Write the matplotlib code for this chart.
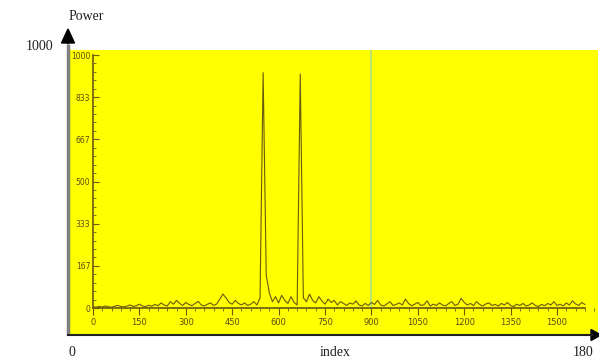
import matplotlib.pyplot as plt
import numpy as np
from matplotlib.patches import Rectangle, FancyArrow
from matplotlib.ticker import MultipleLocator

# spectrum samples, one every 10 index steps (0 .. 1590)
index = np.arange(0, 1600, 10)
power = [
    5, 3, 6, 4, 8, 5, 3, 7, 10, 6,
    4, 8, 12, 6, 9, 15, 8, 5, 11, 7,
    14, 9, 20, 12, 8, 25, 15, 30, 18, 10,
    22, 14, 9, 18, 26, 12, 8, 15, 20, 10,
    16, 35, 55, 40, 22, 15, 30, 18, 12, 20,
    10, 15, 25, 12, 40, 930, 130, 60, 25, 45,
    20, 50, 30, 18, 45, 22, 12, 925, 40, 25,
    55, 30, 20, 45, 28, 15, 35, 22, 30, 12,
    25, 18, 10, 20, 15, 28, 12, 8, 18, 10,
    22, 14, 30, 12, 8, 16, 25, 10, 14, 20,
    12, 35, 18, 9, 15, 22, 10, 13, 28, 8,
    15, 10, 20, 12, 8, 18, 25, 10, 15, 38,
    22, 12, 18, 10, 25, 14, 8, 16, 20, 10,
    14, 8, 18, 12, 22, 10, 6, 15, 10, 18,
    8, 12, 20, 10, 6, 14, 9, 18, 12, 25,
    10, 15, 8, 20, 12, 28, 16, 10, 22, 14,
]
marker_index = 900

y_ticks = [0, 167, 333, 500, 667, 833, 1000]
x_ticks = [0, 150, 300, 450, 600, 750, 900, 1050, 1200, 1350, 1500]

W, H = 599, 363
fig = plt.figure(figsize=(W / 100, H / 100), dpi=100)

# pixel-space canvas for the outer frame, arrows and captions
bg = fig.add_axes([0, 0, 1, 1])
bg.set_xlim(0, W)
bg.set_ylim(H, 0)
bg.axis('off')

bg.add_patch(Rectangle((68, 50), 530, 285, facecolor='#ffff00', edgecolor='none'))
bg.plot([68, 68], [335, 44], color='#808080', lw=2.5, solid_capstyle='butt')
bg.add_patch(FancyArrow(68, 44, 0, -1, width=0, head_width=13, head_length=14,
                        length_includes_head=False, color='black'))
bg.plot([68, 592], [335, 335], color='#202020', lw=1.5)
bg.add_patch(FancyArrow(590, 335, 1, 0, width=0, head_width=11, head_length=10,
                        length_includes_head=False, color='black'))

serif = 'Liberation Serif'
bg.text(86, 17, 'Power', ha='center', va='center', fontsize=10, family=serif, color='#202020')
bg.text(40, 47, '1000', ha='center', va='center', fontsize=10, family=serif, color='#202020')
bg.text(72, 352, '0', ha='center', va='center', fontsize=10, family=serif, color='#202020')
bg.text(335, 352, 'index', ha='center', va='center', fontsize=10, family=serif, color='#202020')
bg.text(583, 352, '180', ha='center', va='center', fontsize=10, family=serif, color='#202020')

# inner spectrum plot
px_per_150 = 46.4
left, right, top, bottom = 93, 598, 50, 308
y_px_per_1000 = 253
ax = fig.add_axes([left / W, (H - bottom) / H, (right - left) / W, (bottom - top) / H])
ax.set_facecolor('none')
ax.set_xlim(0, (right - left) / px_per_150 * 150)
ax.set_ylim(0, (bottom - top) / y_px_per_1000 * 1000)

olive = '#6a5a10'
ax.axvline(marker_index, color='#a8e08a', lw=1.2, zorder=1)
ax.plot(index, power, color=olive, lw=0.8, zorder=2)

for s in ['top', 'right']:
    ax.spines[s].set_visible(False)
ax.spines['left'].set_bounds(0, 1000)
ax.spines['bottom'].set_bounds(0, 1590)
for s in ['left', 'bottom']:
    ax.spines[s].set_color(olive)
    ax.spines[s].set_linewidth(1.2)

ax.set_xticks(x_ticks)
ax.set_xticklabels([str(v) for v in x_ticks])
ax.set_yticks(y_ticks)
ax.set_yticklabels([str(v) for v in y_ticks])
ax.xaxis.set_minor_locator(MultipleLocator(30))
ax.yaxis.set_minor_locator(MultipleLocator(1000 / 30))
ax.tick_params(axis='x', which='major', direction='out', length=5, width=0.8,
               color=olive, labelsize=6, labelcolor='#5a4a10', pad=2)
ax.tick_params(axis='x', which='minor', direction='out', length=2.5, width=0.6, color=olive)
ax.tick_params(axis='y', which='major', direction='in', length=4, width=0.8,
               color=olive, labelsize=5.5, labelcolor='#5a4a10', pad=2)
ax.tick_params(axis='y', which='minor', direction='in', length=2, width=0.6, color=olive)
for lab in ax.get_xticklabels() + ax.get_yticklabels():
    lab.set_family('Liberation Sans Narrow')

fig.savefig('out.png', dpi=100)
